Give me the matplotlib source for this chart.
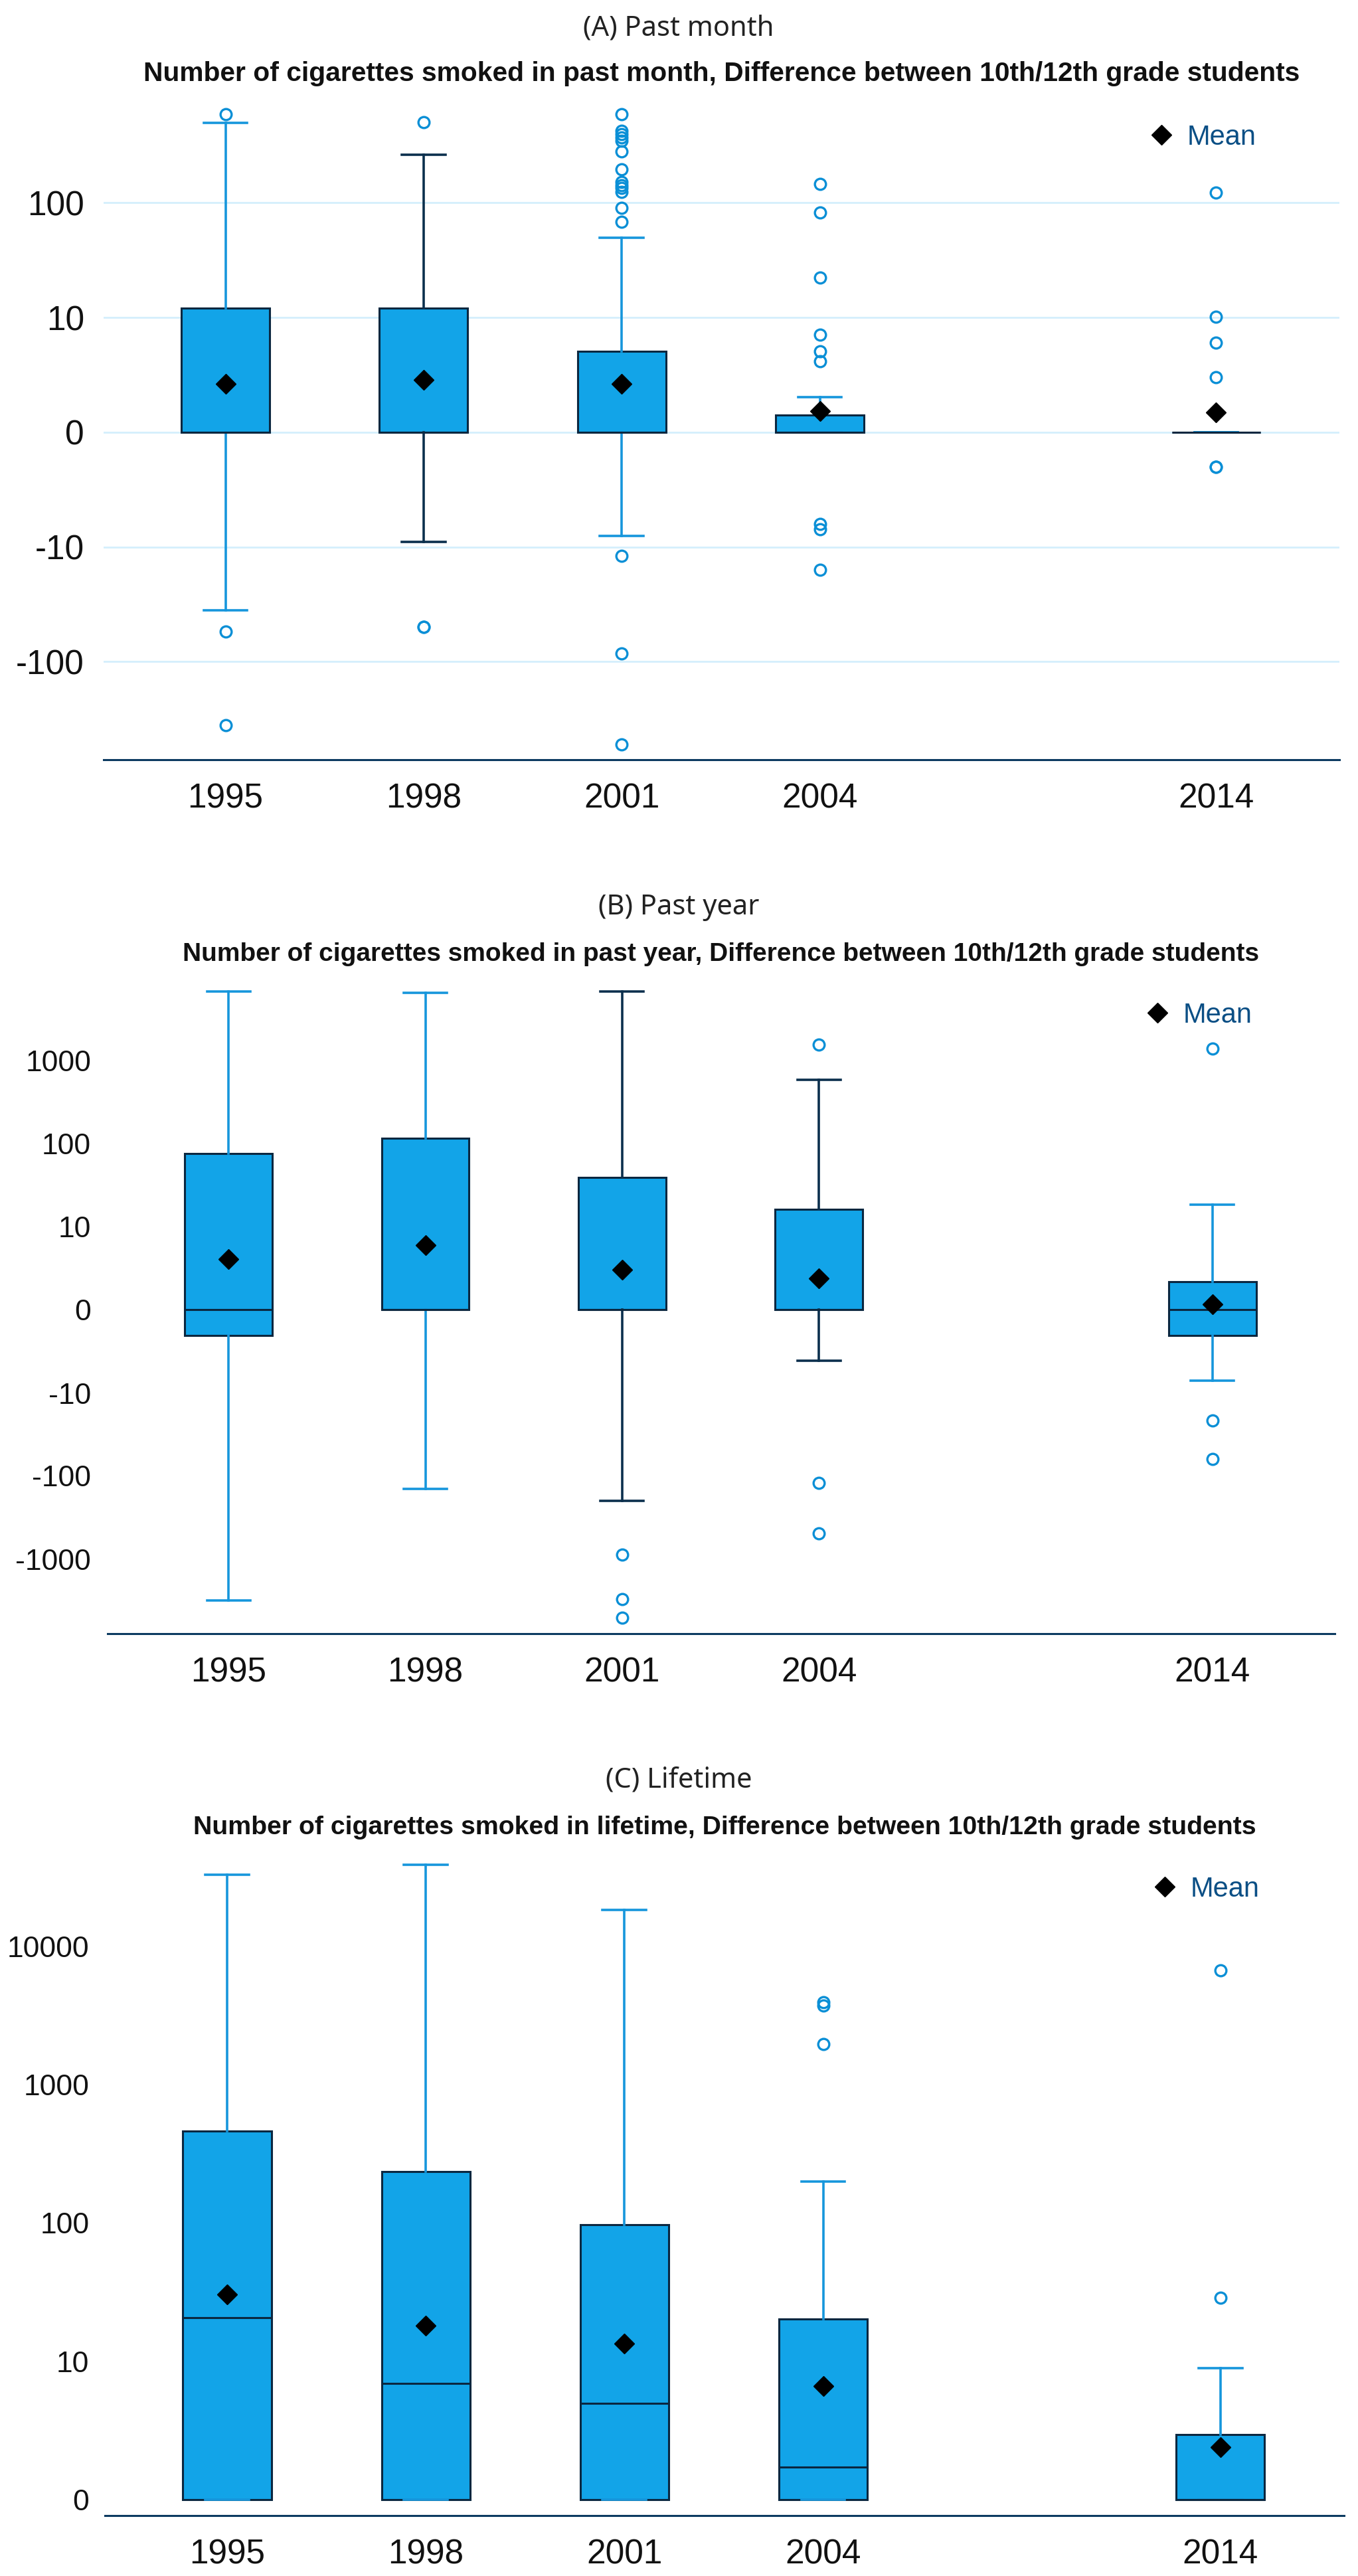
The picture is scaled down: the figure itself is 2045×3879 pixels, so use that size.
import numpy as np
import matplotlib
matplotlib.use('Agg')
import matplotlib.pyplot as plt
from matplotlib.lines import Line2D

# Categories (2014 sits two slots after 2004)
years = ['1995', '1998', '2001', '2004', '2014']
slots = [0, 1, 2, 3, 5]

# (A) Past month - box stats
A_q1 = [0, 0, 0, 0, 0]
A_med = [0, 0, 0, 0, 0]
A_q3 = [11, 11, 4.05, 0.42, 0]
A_lo = [-34.5, -8.0, -7.0, 0, 0]
A_hi = [500, 262, 48.4, 1.02, 0]
A_mean = [1.66, 1.86, 1.63, 0.53, 0.49]
A_fliers = [
    [594, -54, -358],
    [506, -49, -49],
    [589, 426, 398, 372, 348, 281, 194, 152, 142, 133, 124, 89, 67, -11, -84, -527],
    [145, 81, 21.2, 6.1, 4.07, 3.15, -5.3, -6.0, -14.9],
    [122, 9.1, 5.0, 2.0, -1, -1],
]

# (B) Past year
B_q1 = [-1.05, 0, 0, 0, -1.05]
B_med = [0, 0, 0, 0, 0]
B_q3 = [75, 115, 38.5, 15.3, 1.18]
B_lo = [-3185, -141, -198, -3.07, -6.1]
B_hi = [6823, 6620, 6823, 586, 17.4]
B_mean = [3.13, 5.04, 2.04, 1.38, 0.18]
B_fliers = [[], [], [-884, -3042, -5116], [1555, -121, -488], [1399, -20.4, -61]]

# (C) Lifetime
C_q1 = [0, 0, 0, 0, 0]
C_med = [19.7, 5.9, 3.97, 0.72, 0]
C_q3 = [463, 234, 96, 19.3, 1.96]
C_lo = [0, 0, 0, 0, 0]
C_hi = [33040, 38990, 18270, 198, 7.9]
C_mean = [29.3, 17.1, 12.4, 5.59, 1.39]
C_fliers = [[], [], [], [3935, 3750, 1973], [6714, 27.8]]

A_ticks = [-100, -10, 0, 10, 100]
B_ticks = [-1000, -100, -10, 0, 10, 100, 1000]
C_ticks = [0, 10, 100, 1000, 10000]

BOX_FILL = '#12a4e8'
BOX_EDGE = '#0b2740'
WHISK = '#1696dc'
DARK = '#0b2f4d'
FLIER = '#0a8fd6'
GRID = '#d4effc'
AXIS = '#0b3a60'

W, H = 2045, 3879


# signed log(1+|x|) axis, ticks labelled by decade
def fwd(v):
    v = np.asarray(v, dtype=float)
    return np.sign(v) * np.log10(1 + np.abs(v))


def inv(t):
    t = np.asarray(t, dtype=float)
    return np.sign(t) * (10 ** np.abs(t) - 1)


def tick_pos(lbl):
    return float(inv(np.sign(lbl) * np.log10(abs(lbl)))) if lbl != 0 else 0.0


def make_stats(q1, med, q3, lo, hi, mean, fliers):
    stats = []
    for i in range(len(q1)):
        stats.append(dict(q1=q1[i], med=med[i], q3=q3[i], whislo=lo[i], whishi=hi[i],
                          mean=mean[i], fliers=np.array(fliers[i], dtype=float)))
    return stats


fig = plt.figure(figsize=(W / 100, H / 100), dpi=100)


def panel(box, ylim_t, stats, ticks, tick_fs, tick_pad, grid, dark_idx,
          title, title_y, sub, sub_y, sub_fs, leg_xy):
    left, top, right, bottom = box
    ax = fig.add_axes([left / W, 1 - bottom / H, (right - left) / W, (bottom - top) / H])
    ax.set_yscale('function', functions=(fwd, inv))
    res = ax.bxp(stats, positions=slots, widths=0.445, capwidths=0.22,
                 patch_artist=True, showmeans=True,
                 boxprops=dict(facecolor=BOX_FILL, edgecolor=BOX_EDGE, linewidth=2.2),
                 medianprops=dict(color=BOX_EDGE, linewidth=2.2),
                 whiskerprops=dict(color=WHISK, linewidth=2.6),
                 capprops=dict(color=WHISK, linewidth=2.6),
                 meanprops=dict(marker='D', markerfacecolor='black', markeredgecolor='black',
                                markersize=15),
                 flierprops=dict(marker='o', markerfacecolor='none', markeredgecolor=FLIER,
                                 markersize=12, markeredgewidth=2.4))
    for i in dark_idx:
        for art in res['whiskers'][2 * i:2 * i + 2] + res['caps'][2 * i:2 * i + 2]:
            art.set_color(DARK)

    ax.set_xlim(-0.615, 5.622)
    ax.set_ylim(float(inv(ylim_t[0])), float(inv(ylim_t[1])))
    ax.set_xticks(slots)
    ax.set_xticklabels(years)
    ax.set_yticks([tick_pos(t) for t in ticks])
    ax.set_yticklabels([str(t) for t in ticks])
    ax.tick_params(axis='x', length=0, pad=25, labelsize=37, labelcolor='#111111')
    ax.tick_params(axis='y', length=0, pad=tick_pad, labelsize=tick_fs, labelcolor='#111111')
    for s in ['left', 'top', 'right']:
        ax.spines[s].set_visible(False)
    ax.spines['bottom'].set_color(AXIS)
    ax.spines['bottom'].set_linewidth(2.2)
    if grid:
        ax.yaxis.grid(True, color=GRID, linewidth=2)
        ax.set_axisbelow(True)

    fig.text(1022 / W, 1 - title_y / H, title, ha='center', va='baseline',
             fontsize=30, family='Noto Sans', color='#222222')
    fig.text((left + right) / 2 / W, 1 - sub_y / H, sub, ha='center', va='baseline',
             fontsize=sub_fs, fontweight='bold', family='Liberation Sans', color='#111111')

    h = Line2D([], [], linestyle='none', marker='D', markerfacecolor='black',
               markeredgecolor='black', markersize=15)
    ax.legend([h], ['Mean'], loc='center left', frameon=False,
              bbox_to_anchor=(leg_xy[0] / W, 1 - leg_xy[1] / H), bbox_transform=fig.transFigure,
              borderpad=0, borderaxespad=0, handlelength=1.0, handletextpad=0.42,
              prop=dict(family='Liberation Sans', size=30), labelcolor='#0b4f85')
    return ax


plt.rcParams['font.family'] = ['Liberation Sans', 'DejaVu Sans']

panel((156, 150, 2017, 1144), (-2.855, 2.9),
      make_stats(A_q1, A_med, A_q3, A_lo, A_hi, A_mean, A_fliers),
      A_ticks, 37, 21, True, [1],
      '(A) Past month', 54,
      'Number of cigarettes smoked in past month, Difference between 10th/12th grade students',
      122, 29.3, (1728, 207))

panel((162, 1470, 2010, 2460), (-3.9, 4.02),
      make_stats(B_q1, B_med, B_q3, B_lo, B_hi, B_mean, B_fliers),
      B_ticks, 32, 18, False, [2, 3],
      '(B) Past year', 1377,
      'Number of cigarettes smoked in past year, Difference between 10th/12th grade students',
      1447, 28, (1722, 1529))

panel((158, 2790, 2024, 3788), (-0.115, 4.676),
      make_stats(C_q1, C_med, C_q3, C_lo, C_hi, C_mean, C_fliers),
      C_ticks, 32, 17, False, [],
      '(C) Lifetime', 2692,
      'Number of cigarettes smoked in lifetime, Difference between 10th/12th grade students',
      2762, 28.3, (1733, 2845))

fig.savefig('out.png', dpi=100)
